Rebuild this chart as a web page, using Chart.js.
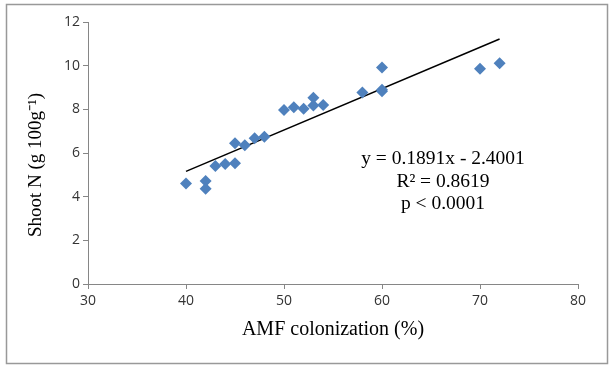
<!DOCTYPE html>
<html>
<head>
<meta charset="utf-8">
<script src="https://cdn.jsdelivr.net/npm/chart.js@4"></script>
<style>
  body { margin: 0; background: #fff; }
  #wrap { width: 615px; height: 371px; position: relative; }
</style>
</head>
<body>
<div id="wrap"><canvas id="shootN"></canvas></div>
<script>
// AMF colonization (%) vs shoot N
var colonization = [40, 42, 42, 43, 44, 45, 45, 46, 47, 48, 50, 51, 52, 53, 53, 54, 58, 60, 60, 60, 70, 72];
var shootN = [4.6, 4.72, 4.36, 5.41, 5.5, 5.53, 6.45, 6.36, 6.68, 6.75, 7.97, 8.1, 8.03, 8.53, 8.17, 8.2, 8.77, 9.92, 8.83, 8.9, 9.86, 10.11];
// fitted line end points (y = 0.1891x - 2.4001)
var trendX = [40, 72];
var trendY = [5.16, 11.22];
var xTicks = [30, 40, 50, 60, 70, 80];
var yTicks = [0, 2, 4, 6, 8, 10, 12];
var eqLines = ['y = 0.1891x - 2.4001', 'R\u00b2 = 0.8619', 'p < 0.0001'];
var yTitle = 'Shoot N (g 100g\u207b\u00b9)';

var pts = colonization.map(function (x, i) { return { x: x, y: shootN[i] }; });
var trend = trendX.map(function (x, i) { return { x: x, y: trendY[i] }; });

// box round the chart, y title (sits a bit low like excel) + equation text
var extras = {
    id: 'extras',
    afterDraw: function (chart) {
        var ctx = chart.ctx;
        ctx.save();
        ctx.strokeStyle = '#999';
        ctx.lineWidth = 1.5;
        ctx.strokeRect(6.5, 4.5, 601, 359);
        ctx.fillStyle = '#000';
        ctx.textAlign = 'center';
        ctx.textBaseline = 'middle';
        ctx.font = '19.5px "Liberation Serif", "Times New Roman", serif';
        var ys = [159, 182, 204];
        eqLines.forEach(function (t, i) { ctx.fillText(t, 443, ys[i]); });
        ctx.font = '19px "Liberation Serif", "Times New Roman", serif';
        ctx.translate(36, 165);
        ctx.rotate(-Math.PI / 2);
        ctx.fillText(yTitle, 0, 0);
        ctx.restore();
    }
};

var c1 = document.getElementById('shootN').getContext('2d');
const chart1 = new Chart(c1, {
    type: 'scatter',
    data: {
        datasets: [{
            label: 'Shoot N',
            data: pts,
            pointStyle: 'rectRot',
            pointRadius: 6,
            pointHoverRadius: 6,
            backgroundColor: '#4f81bd',
            borderColor: '#4f81bd',
            borderWidth: 0
        }, {
            label: 'Linear',
            type: 'line',
            data: trend,
            borderColor: '#000',
            borderWidth: 1.5,
            pointRadius: 0,
            fill: false
        }]
    },
    options: {
        responsive: true,
        maintainAspectRatio: false,
        animation: false,
        layout: { padding: { left: 0, top: 22, right: 37, bottom: 0 } },
        plugins: { legend: { display: false }, tooltip: { enabled: false } },
        scales: {
            x: {
                type: 'linear',
                min: 30, max: 80,
                afterBuildTicks: function (s) { s.ticks = xTicks.map(function (v) { return { value: v }; }); },
                afterFit: function (s) { s.height = 87; },
                grid: { drawOnChartArea: false, tickLength: 5, color: '#868686' },
                border: { color: '#868686' },
                ticks: { font: { family: 'Open Sans', size: 14 }, color: '#333', padding: 4, maxRotation: 0 },
                title: {
                    display: true,
                    text: 'AMF colonization (%)',
                    font: { family: '"Liberation Serif"', size: 20 },
                    color: '#000',
                    padding: { top: 0, bottom: 29 }
                }
            },
            y: {
                min: 0, max: 12,
                afterBuildTicks: function (s) { s.ticks = yTicks.map(function (v) { return { value: v }; }); },
                afterFit: function (s) { s.width = 88; },
                grid: { drawOnChartArea: false, tickLength: 5, color: '#868686' },
                border: { color: '#868686' },
                ticks: { font: { family: 'Open Sans', size: 14 }, color: '#333', padding: 3 }
            }
        }
    },
    plugins: [extras]
});
</script>
</body>
</html>
